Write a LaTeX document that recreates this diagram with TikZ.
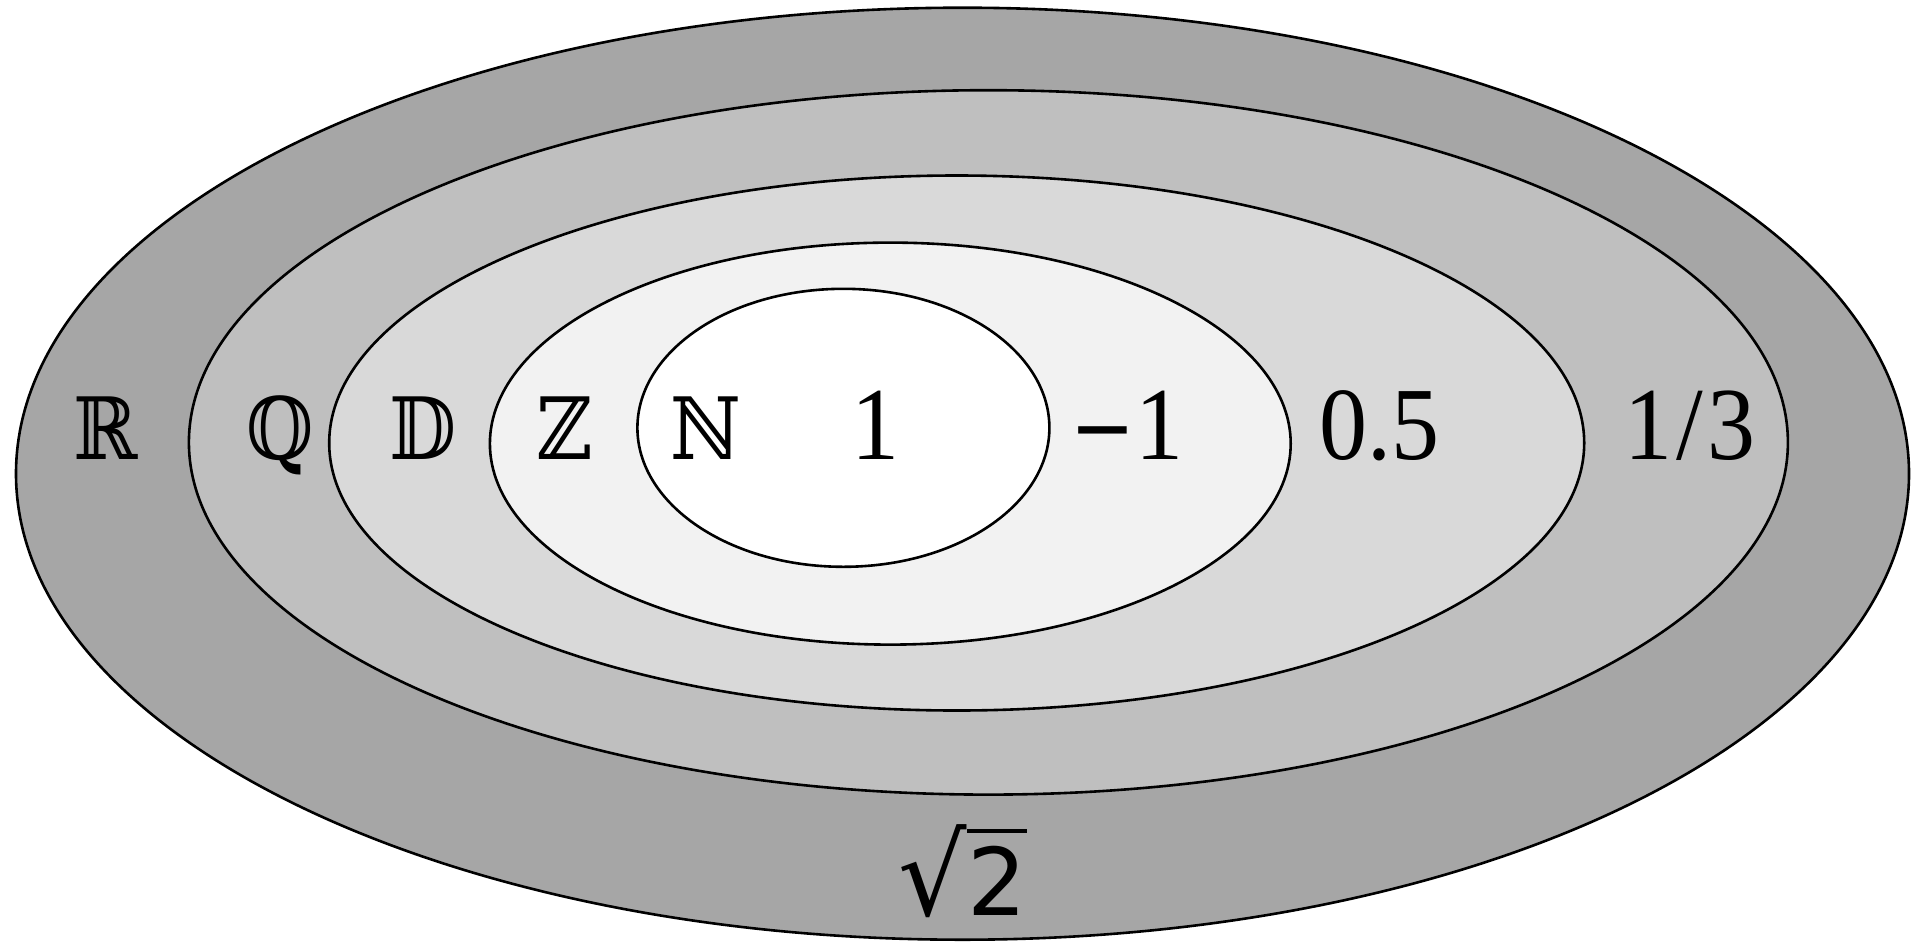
\documentclass[tikz,border=0pt]{standalone}
\usepackage{fontspec}
\setmainfont{Liberation Serif}
\newfontfamily\bbfont{DejaVu Serif Condensed}
\newfontfamily\rootfont{DejaVu Sans}
\usetikzlibrary{shapes.geometric}
\definecolor{setR}{HTML}{A6A6A6}
\definecolor{setQ}{HTML}{BFBFBF}
\definecolor{setD}{HTML}{D9D9D9}
\definecolor{setZ}{HTML}{F2F2F2}
\definecolor{setN}{HTML}{FFFFFF}
\newcommand\tallnum[1]{\scalebox{1}[1.08]{#1}}

\begin{document}
\begin{tikzpicture}[x=0.5pt,y=-0.5pt]
\tikzstyle{set}=[draw,line width=1.3pt,ellipse,inner sep=0pt]
\tikzstyle{lbl}=[anchor=base,inner sep=0pt,font=\fontsize{48}{54}\selectfont]
\tikzstyle{setname}=[anchor=base,inner sep=0pt,font=\bbfont\fontsize{43}{50}\selectfont]
\useasboundingbox[fill=white] (0,0) rectangle (1911,943);
% nested sets, outermost first
\node[set,fill=setR,minimum width=946.5pt,minimum height=466pt] (R) at (962.5,473.7) {};
\node[set,fill=setQ,minimum width=799.5pt,minimum height=352.2pt] (Q) at (988.4,442.4) {};
\node[set,fill=setD,minimum width=627.5pt,minimum height=267.5pt] (D) at (956.7,443) {};
\node[set,fill=setZ,minimum width=400.4pt,minimum height=201pt] (Z) at (890.3,443.6) {};
\node[set,fill=setN,minimum width=206pt,minimum height=139pt] (N) at (843.4,427.8) {};
% set names
\node[setname] (nameR) at (106,459.5) {ℝ};
\node[setname] (nameQ) at (279.7,459.5) {ℚ};
\node[setname] (nameD) at (423.5,459.5) {𝔻};
\node[setname] (nameZ) at (565,459.5) {ℤ};
\node[setname] (nameN) at (705.7,459.5) {ℕ};
% members
\node[lbl] (one) at (875,459.5) {\tallnum{1}};
\node[lbl] (minusone) at (1126.8,459.5) {\tallnum{{\bbfont\fontsize{43}{50}\selectfont −}1}};
\node[lbl] (half) at (1379,459.5) {\tallnum{0.5}};
\node[lbl] (third) at (1690,459.5) {\tallnum{1\kern2pt/\kern2pt3}};
\node[lbl,font=\rootfont\fontsize{46.7}{52}\selectfont] (root) at (962.8,915.3)
  {\scalebox{1.15}[1.2]{√}\makebox[0pt][l]{\rule[41.2pt]{29.7pt}{2.1pt}}2};
\end{tikzpicture}
\end{document}
